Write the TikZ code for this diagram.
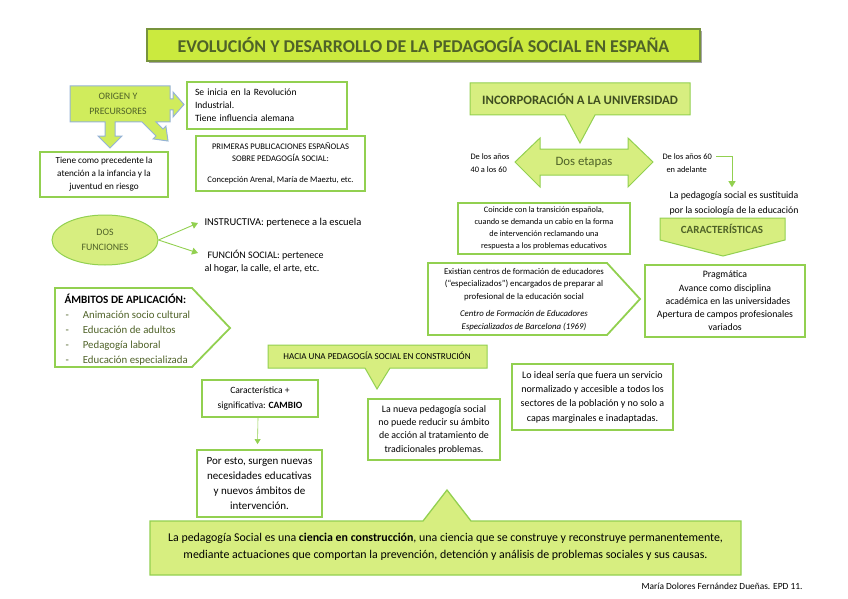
\documentclass[tikz,border=0pt]{standalone}
\usepackage{fontspec}
\setmainfont{Carlito}
\usetikzlibrary{positioning,arrows.meta,shapes.geometric}
\definecolor{verdeborde}{HTML}{92D050}
\definecolor{verdeclaro}{HTML}{D7EE80}
\definecolor{verdetitulo}{HTML}{CBEA3E}
\definecolor{verdemarco}{HTML}{77933C}
\definecolor{verdeoscuro}{HTML}{4F6228}
\definecolor{azulborde}{HTML}{95B3D7}
\tikzset{
  caja/.style={draw=verdeborde, line width=1.8pt, fill=white, inner sep=0pt, align=center},
  bocadillo/.style={draw=verdeborde, line width=1pt, fill=verdeclaro},
  flecha/.style={verdeborde, line width=0.9pt, -{Triangle[width=7pt,length=6pt]}},
}
\begin{document}
\begin{tikzpicture}[x=1pt,y=-1pt]
\useasboundingbox (0,0) rectangle (848,599);

\fill[black!35] (149,31) rectangle (702,63);
\node[draw=verdemarco, fill=verdetitulo, line width=1.5pt, minimum width=553pt, minimum height=32pt,
  text=verdeoscuro, font=\fontsize{18}{20}\selectfont\bfseries] (titulo) at (423.5,45)
  {EVOLUCIÓN Y DESARROLLO DE LA PEDAGOGÍA SOCIAL EN ESPAÑA};

\filldraw[fill=verdetitulo!55!verdeclaro, draw=azulborde, line width=1pt]
  (70,86) -- (170,86) -- (170,99) -- (173,99) -- (173,92) -- (184,104.5) -- (173,117) -- (173,110)
  -- (170,110) -- (170,122) -- (156,122) -- (163,129) -- (165.9,126.1) -- (168,141) -- (153.1,138.9)
  -- (156,136) -- (142,122) -- (115,122) -- (115,136) -- (122,136) -- (110,148) -- (98,136)
  -- (105,136) -- (105,122) -- (70,122) -- cycle;
\node[text=verdeoscuro, font=\fontsize{9.8}{15}\selectfont, align=center] (origen) at (118,104) {ORIGEN Y\\PRECURSORES};

\node[caja, minimum width=160pt, minimum height=47pt, text width=144pt, align=left,
  font=\fontsize{9.6}{13}\selectfont] (inicia) at (267,105.5)
  {Se inicia en la Revolución\\Industrial.\\Tiene influencia alemana};
\node[caja, minimum width=128pt, minimum height=45pt, font=\fontsize{9.2}{13}\selectfont] (precedente) at (104,174.5)
  {Tiene como precedente la\\atención a la infancia y la\\juventud en riesgo};
\node[caja, minimum width=169pt, minimum height=55pt, font=\fontsize{8.6}{12}\selectfont] (primeras) at (280.5,163.5)
  {PRIMERAS PUBLICACIONES ESPAÑOLAS\\SOBRE PEDAGOGÍA SOCIAL:\\[9pt]Concepción Arenal, María de Maeztu, etc.};

\node[ellipse, draw=verdeborde, fill=verdeclaro, line width=1pt, minimum width=106pt, minimum height=50pt,
  text=verdeoscuro, font=\fontsize{9.8}{15}\selectfont, align=center] (dosf) at (105,240) {DOS\\FUNCIONES};
\node[anchor=west, font=\fontsize{10.5}{13}\selectfont] (instructiva) at (201,223) {INSTRUCTIVA: pertenece a la escuela};
\node[anchor=north west, align=left, font=\fontsize{10}{13}\selectfont] (funcion) at (201,247)
  {\hspace{3pt}FUNCIÓN SOCIAL: pertenece\\al hogar, la calle, el arte, etc.};
\draw[flecha] (dosf.east) -- ([xshift=-3pt]instructiva.west);
\draw[flecha] (dosf.east) -- ([xshift=-3pt,yshift=-6pt]funcion.north west);

\draw[draw=verdeborde, line width=1.8pt, fill=white] (55,288) -- (192,288) -- (230,328) -- (192,367) -- (55,367) -- cycle;
\node[anchor=west, font=\fontsize{11.2}{15}\selectfont\bfseries] (ambitos) at (61,299) {ÁMBITOS DE APLICACIÓN:};
\node[anchor=north west, align=left, text=verdeoscuro, font=\fontsize{10.8}{15}\selectfont] (lista) at (62,307)
  {-\hspace{14pt}Animación socio cultural\\-\hspace{14pt}Educación de adultos\\-\hspace{14pt}Pedagogía laboral\\-\hspace{14pt}Educación especializada};

\filldraw[bocadillo] (470,83) -- (690,83) -- (690,115) -- (595,115) -- (580,143) -- (565,115) -- (470,115) -- cycle;
\node[text=verdeoscuro!80!black, font=\fontsize{12.8}{14}\selectfont\bfseries] (incorporacion) at (580,99) {INCORPORACIÓN A LA UNIVERSIDAD};

\filldraw[bocadillo] (515,162) -- (540,138) -- (540,149) -- (628,149) -- (628,138) -- (653,162)
  -- (628,187) -- (628,175) -- (540,175) -- (540,187) -- cycle;
\node[text=verdeoscuro, font=\fontsize{12.8}{14}\selectfont] (etapas) at (584,162) {Dos etapas};
\node[anchor=west, align=left, font=\fontsize{8.4}{12.5}\selectfont] (cuarenta) at (467,163) {De los años\\40 a los 60};
\node[anchor=west, align=left, font=\fontsize{8.4}{12.5}\selectfont] (sesenta) at (659,163) {De los años 60\\\hspace{4pt}en adelante};
\node[align=center, font=\fontsize{9.8}{15}\selectfont] (sustituida) at (734,203.5)
  {La pedagogía social es sustituida\\por la sociología de la educación};
\draw[flecha] ([xshift=1pt,yshift=-6pt]sesenta.north east) -| ([xshift=-2pt,yshift=1pt]sustituida.north);

\filldraw[bocadillo] (660,218) -- (785,218) -- (785,240) -- (723,256) -- (660,240) -- cycle;
\node[text=verdeoscuro, font=\fontsize{11}{12}\selectfont\bfseries] (caracteristicas) at (722,229) {CARACTERÍSTICAS};

\node[caja, minimum width=172pt, minimum height=51pt, font=\fontsize{8.3}{12}\selectfont] (coincide) at (544,228.5)
  {Coincide con la transición española,\\cuando se demanda un cabio en la forma\\de intervención reclamando una\\respuesta a los problemas educativos};

\draw[draw=verdeborde, line width=1.8pt, fill=white] (428,263) -- (607,263) -- (640,299) -- (607,335) -- (428,335) -- cycle;
\node[align=center, font=\fontsize{8.8}{12.5}\selectfont] (existian) at (524,299.5)
  {Existían centros de formación de educadores\\(“especializados”) encargados de preparar al\\profesional de la educación social\\[5pt]
  \textit{Centro de Formación de Educadores}\\\textit{Especializados de Barcelona (1969)}};

\node[caja, minimum width=160pt, minimum height=72pt, font=\fontsize{9.8}{13.3}\selectfont] (pragmatica) at (725,301)
  {Pragmática\\Avance como disciplina\\\hspace{6pt}académica en las universidades\\Apertura de campos profesionales\\variados};

\filldraw[bocadillo] (268,345) -- (487,345) -- (487,368) -- (390,368) -- (377,389) -- (365,368) -- (268,368) -- cycle;
\node[font=\fontsize{9.1}{10}\selectfont] (hacia) at (377,356) {HACIA UNA PEDAGOGÍA SOCIAL EN CONSTRUCIÓN};

\node[caja, minimum width=116pt, minimum height=37pt, font=\fontsize{9.6}{14.5}\selectfont] (caracteristica) at (260,398.5)
  {Característica +\\significativa: \textbf{CAMBIO}};
\node[caja, minimum width=125pt, minimum height=67pt, font=\fontsize{11}{15}\selectfont] (poresto) at (259.5,483.5)
  {Por esto, surgen nuevas\\necesidades educativas\\y nuevos ámbitos de\\intervención.};
\draw[flecha, line width=0.6pt, -{Triangle[width=6pt,length=5pt]}] ([xshift=-2pt]caracteristica.south) -- ([xshift=-2pt,yshift=5pt]poresto.north);

\node[caja, minimum width=132pt, minimum height=61pt, font=\fontsize{9.9}{13.3}\selectfont] (nueva) at (434,429.5)
  {La nueva pedagogía social\\no puede reducir su ámbito\\de acción al tratamiento de\\tradicionales problemas.};
\node[caja, minimum width=161pt, minimum height=66pt, font=\fontsize{10}{14.3}\selectfont] (ideal) at (592.5,397)
  {Lo ideal sería que fuera un servicio\\normalizado y accesible a todos los\\sectores de la población y no solo a\\capas marginales e inadaptadas.};

\filldraw[bocadillo, line width=1.3pt] (150,521) -- (423,521) -- (447,490) -- (471,521) -- (741,521) -- (741,575) -- (150,575) -- cycle;
\node[align=center, font=\fontsize{11.9}{17}\selectfont] (ciencia) at (445.5,546.5)
  {La pedagogía Social es una \textbf{ciencia en construcción}, una ciencia que se construye y reconstruye permanentemente,\\
  mediante actuaciones que comportan la prevención, detención y análisis de problemas sociales y sus causas.};

\node[anchor=east, font=\fontsize{9.4}{10}\selectfont] (firma) at (806,586) {María Dolores Fernández Dueñas. EPD 11.};
\end{tikzpicture}
\end{document}
